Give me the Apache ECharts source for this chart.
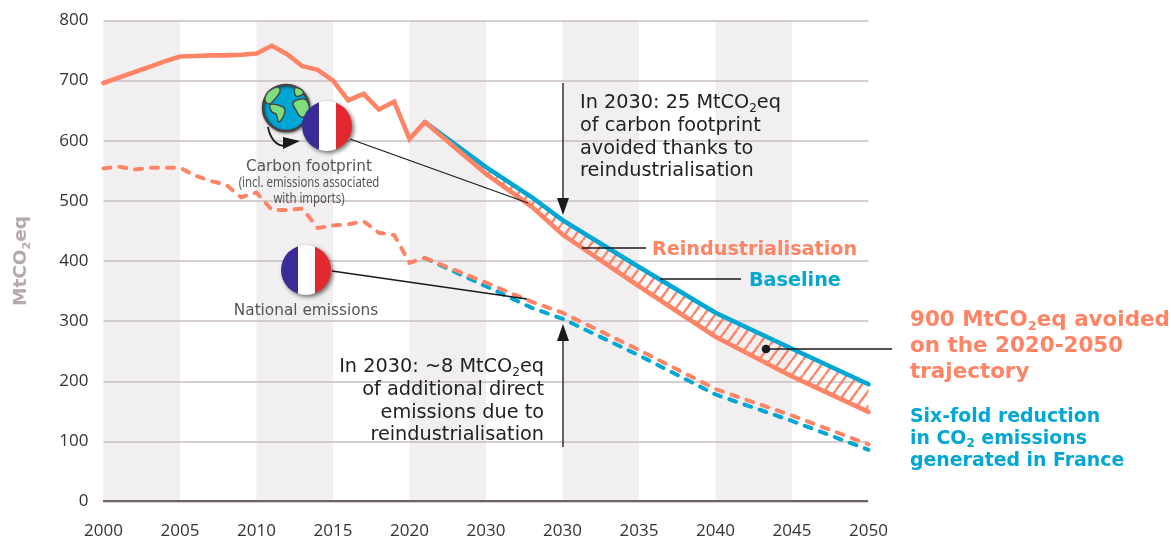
<!DOCTYPE html>
<html><head><meta charset="utf-8">
<style>html,body{margin:0;padding:0;background:#fff}#c{width:1171px;height:539px}</style>
<script src="https://cdn.jsdelivr.net/npm/echarts@6/dist/echarts.min.js"></script>
</head><body><div id="c"></div>
<script>
const xTickLabels = ['2000','2005','2010','2015','2020','2030','2030','2035','2040','2045','2050'];
const histYears = [2000,2001,2002,2003,2004,2005,2006,2007,2008,2009,2010,2011,2012,2013,2014,2015,2016,2017,2018,2019,2020,2021];
const footprintHist = [696,705,714,723,732,740,741,742,742,743,745,758,744,724,718,700,667,678,652,665,603,631];
const nationalHist = [554,557,552,555,555,555,542,533,527,506,514,485,485,487,455,459,461,466,447,443,397,405];
const scenYears = [2021,2025,2028,2030,2035,2040,2045,2050];
const footprintBaseline = [631,556,506,468,390,314,254,195];
const footprintReind = [631,545,490,444,358,274,208,149];
const nationalBaseline = [405,358,322,304,243,178,134,86];
const nationalReind = [405,364,332,314,252,187,143,95];

const ORANGE = '#ff8365', BLUE = '#00a7d5', INK = '#1a1a1a', GREY = '#555';
const zip = (xs, ys) => xs.map((x, i) => [x, ys[i]]);

function hatchTile() {
  const w = 11, h = 15, c = document.createElement('canvas');
  c.width = w; c.height = h;
  const g = c.getContext('2d');
  g.strokeStyle = ORANGE; g.lineWidth = 2.4;
  for (const k of [-1, 0, 1]) {
    g.beginPath(); g.moveTo(k * w, h); g.lineTo(k * w + w, 0); g.stroke();
  }
  return c;
}
const pattern = { image: hatchTile(), repeat: 'repeat' };

const chart = echarts.init(document.getElementById('c'), null, { renderer: 'canvas' });
const lineSeries = (name, data, color, dashed, z) => ({
  name, type: 'line', data, symbol: 'none', z, silent: true,
  lineStyle: { color, width: dashed ? 4 : 4.6, cap: 'round', join: 'miter',
               type: dashed ? [7, 9] : 'solid' }
});

const DJ = '"DejaVu Sans"';
const base = { fontFamily: DJ, fontSize: 19.3, lineHeight: 22.7, fill: '#222' };
const richOf = (b) => ({ a: b, s: Object.assign({}, b, { fontSize: Math.round(b.fontSize * 0.62), lineHeight: 11, verticalAlign: 'bottom' }) });
const T = (x, y, text, style, align) => ({
  type: 'text', z: 100, silent: true,
  style: { x, y, text, rich: richOf(style), align: align || 'left', verticalAlign: 'top' }
});
const plain = (x, y, text, font, size, color, sx) => ({
  type: 'text', z: 100, silent: true, x, y, scaleX: sx || 1,
  style: { x: 0, y: 0, text, fontFamily: font, fontSize: size, fill: color,
           align: 'center', verticalAlign: 'middle' }
});
const L = (x1, y1, x2, y2, w) => ({ type: 'line', z: 90, silent: true,
  shape: { x1, y1, x2, y2 }, style: { stroke: INK, lineWidth: w || 1.3 } });
const Tri = (pts) => ({ type: 'polygon', z: 91, silent: true, shape: { points: pts }, style: { fill: INK } });
const flag = (cx, cy, r) => ({
  type: 'circle', z: 95, silent: true, shape: { cx, cy, r },
  style: {
    fill: { type: 'linear', x: 0, y: 0, x2: 1, y2: 0, colorStops: [
      { offset: 0, color: '#3a2c96' }, { offset: 0.34, color: '#3a2c96' },
      { offset: 0.34, color: '#ffffff' }, { offset: 0.67, color: '#ffffff' },
      { offset: 0.67, color: '#e2272e' }, { offset: 1, color: '#e2272e' } ] },
    shadowBlur: 4, shadowColor: 'rgba(0,0,0,0.55)', shadowOffsetX: 2, shadowOffsetY: 2
  }
});
const land = (pts) => ({ type: 'polygon', z: 93, silent: true, shape: { points: pts, smooth: 0.4 },
  style: { fill: '#7fdc7f', stroke: '#444', lineWidth: 1.4 } });

const graphicEls = [
  { type: 'circle', z: 92, silent: true, shape: { cx: 286, cy: 108, r: 23 },
    style: { fill: '#00a7d5', stroke: '#444', lineWidth: 2.5, shadowBlur: 3, shadowColor: 'rgba(0,0,0,0.5)', shadowOffsetX: 1, shadowOffsetY: 1 } },
  land([[268,92],[278,87],[280,92],[274,100],[269,104],[265,100]]),
  land([[270,105],[281,106],[285,111],[279,122],[276,114],[272,112]]),
  land([[295,88],[302,90],[303,94],[296,96]]),
  land([[293,103],[301,99],[307,101],[309,114],[301,117],[296,110]]),
  { type: 'bezierCurve', z: 92, silent: true,
    shape: { x1: 268, y1: 127, cpx1: 270, cpy1: 138, cpx2: 276, cpy2: 146, x2: 285, y2: 146 },
    style: { stroke: INK, lineWidth: 1.8, fill: 'none' } },
  Tri([[283,137],[300,141],[283,149]]),
  flag(327, 126, 25),
  flag(306, 270, 25),
  plain(309, 167, 'Carbon footprint', DJ, 15.3, GREY),
  plain(309, 183, '(incl. emissions associated', '"Noto Sans"', 15, GREY, 0.76),
  plain(309, 199, 'with imports)', '"Noto Sans"', 15, GREY, 0.76),
  plain(306, 311, 'National emissions', DJ, 15.3, GREY),
  L(350, 139, 528, 203),
  L(332, 271, 527, 299),
  L(582, 248, 646, 248),
  L(660, 279, 741, 279),
  L(766, 349, 892, 349, 1.5),
  { type: 'circle', z: 91, silent: true, shape: { cx: 766, cy: 349, r: 4.3 }, style: { fill: INK } },
  L(563, 83, 563, 200),
  Tri([[557,198],[569,198],[563,215]]),
  L(563, 338, 563, 447),
  Tri([[557,341],[569,341],[563,324]]),
  T(580, 92, '{a|In 2030: 25 MtCO}{s|2}{a|eq}\n{a|of carbon footprint}\n{a|avoided thanks to}\n{a|reindustrialisation}', base),
  T(544, 356, '{a|In 2030: ~8 MtCO}{s|2}{a|eq}\n{a|of additional direct}\n{a|emissions due to}\n{a|reindustrialisation}', base, 'right'),
  T(652, 239, '{a|Reindustrialisation}', { fontFamily: DJ, fontWeight: 'bold', fontSize: 19.2, lineHeight: 23, fill: ORANGE }),
  T(749, 270, '{a|Baseline}', { fontFamily: DJ, fontWeight: 'bold', fontSize: 19.2, lineHeight: 23, fill: BLUE }),
  T(910, 307, '{a|900 MtCO}{s|2}{a|eq avoided}\n{a|on the 2020-2050}\n{a|trajectory}', { fontFamily: DJ, fontWeight: 'bold', fontSize: 21.45, lineHeight: 26, fill: ORANGE }),
  T(910, 406, '{a|Six-fold reduction}\n{a|in CO}{s|2}{a| emissions}\n{a|generated in France}', { fontFamily: DJ, fontWeight: 'bold', fontSize: 18.9, lineHeight: 22, fill: BLUE })
];

chart.setOption({
  animation: false,
  backgroundColor: '#fff',
  grid: { left: 103.5, right: 302.5, top: 20.5, bottom: 37.5, outerBoundsMode: 'none' },
  xAxis: {
    type: 'value', min: 2000, max: 2050, interval: 5, z: 0,
    axisLine: { show: false },
    axisTick: { show: false },
    splitLine: { show: false },
    splitArea: { show: true, areaStyle: { color: ['#f1eff0', '#ffffff'] } },
    axisLabel: { margin: 21, color: '#333', fontFamily: '"Open Sans"', fontSize: 17,
      formatter: v => xTickLabels[Math.round((v - 2000) / 5)] }
  },
  yAxis: {
    type: 'value', min: 0, max: 800, interval: 100, z: 1,
    axisLine: { show: false }, axisTick: { show: false },
    splitLine: { show: true, lineStyle: { color: '#c9bec2', width: 1.5 } },
    axisLabel: { margin: 15, color: '#333', fontFamily: '"Open Sans"', fontSize: 17 },
    name: '{m|MtCO}{d|2}{m|eq}', nameLocation: 'middle', nameGap: 71, nameRotate: 90,
    nameTextStyle: { rich: {
      m: { fontFamily: DJ, fontWeight: 'bold', fontSize: 18.5, color: '#b5a9ac', lineHeight: 22 },
      d: { fontFamily: DJ, fontWeight: 'bold', fontSize: 11, color: '#b5a9ac', lineHeight: 10, verticalAlign: 'bottom' }
    } }
  },
  graphic: { elements: graphicEls.concat([L(103, 501, 868, 501, 2)].map(e => { e.style.stroke = '#6e6265'; e.z = 3; return e; })) },
  series: [
    { type: 'custom', name: 'Avoided', z: 2, silent: true, clip: false,
      data: [[scenYears[0], footprintBaseline[0]]],
      renderItem: (params, api) => {
        const pts = zip(scenYears, footprintBaseline)
          .concat(zip(scenYears, footprintReind).reverse())
          .map(p => api.coord(p));
        return { type: 'polygon', shape: { points: pts }, style: { fill: pattern } };
      } },
    lineSeries('Carbon footprint baseline', zip(scenYears, footprintBaseline), BLUE, false, 3),
    lineSeries('National baseline', zip(scenYears, nationalBaseline), BLUE, true, 3),
    lineSeries('Carbon footprint reindustrialisation', zip(scenYears, footprintReind), ORANGE, false, 4),
    lineSeries('National reindustrialisation', zip(scenYears, nationalReind), ORANGE, true, 4),
    lineSeries('Carbon footprint', zip(histYears, footprintHist), ORANGE, false, 4),
    lineSeries('National emissions', zip(histYears, nationalHist), ORANGE, true, 4)
  ]
});
</script></body></html>
